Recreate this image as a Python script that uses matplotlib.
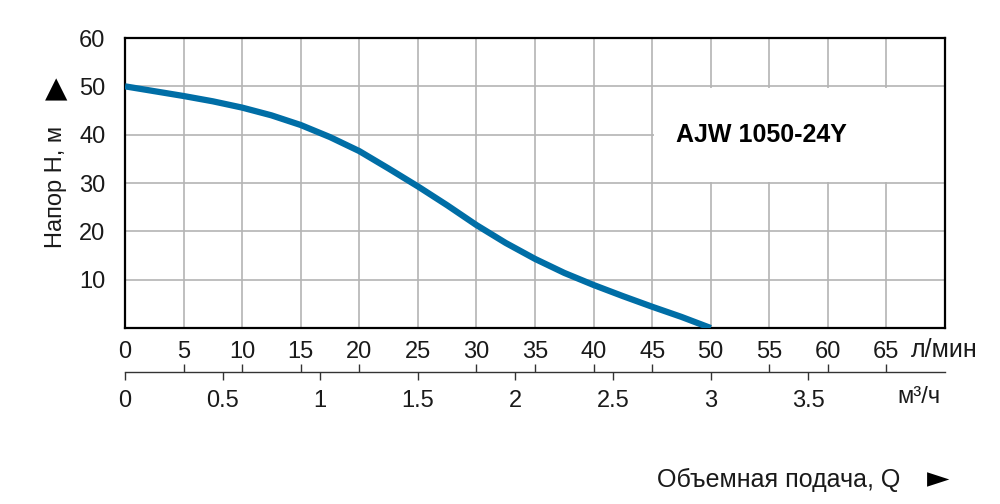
import matplotlib
matplotlib.use("Agg")
import matplotlib.pyplot as plt
from matplotlib.patches import Rectangle
from matplotlib.ticker import FixedLocator

# pump curve: flow in l/min, head in m
flow_lmin = [0, 2.5, 5, 7.5, 10, 12.5, 15, 17.5, 20, 22.5, 25, 27.5,
             30, 32.5, 35, 37.5, 40, 42.5, 45, 47.5, 50]
head_m = [50, 49.0, 48.0, 46.9, 45.6, 44.0, 42.0, 39.5, 36.6, 33.0, 29.3, 25.4,
          21.3, 17.6, 14.3, 11.4, 8.9, 6.6, 4.4, 2.3, 0]

x_ticks = [0, 5, 10, 15, 20, 25, 30, 35, 40, 45, 50, 55, 60, 65, 70]
x_labels = ["0", "5", "10", "15", "20", "25", "30", "35", "40", "45",
            "50", "55", "60", "65", ""]
y_ticks = [10, 20, 30, 40, 50, 60]
m3h_ticks = [0, 0.5, 1, 1.5, 2, 2.5, 3, 3.5]
m3h_labels = ["0", "0.5", "1", "1.5", "2", "2.5", "3", "3.5"]

model = "AJW 1050-24Y"
LMIN_TO_M3H = 0.06

plt.rcParams['font.family'] = ['Liberation Sans', 'DejaVu Sans']
txt = "#1a1a1a"
FS = 17

fig = plt.figure(figsize=(10, 5.04), dpi=100)
ax = fig.add_axes([0.125, 0.3492, 0.82, 0.5754])

ax.set_xlim(0, 70)
ax.set_ylim(0, 60)
ax.set_xticks(x_ticks, labels=x_labels)
ax.set_yticks(y_ticks)
ax.grid(True, color="#b4b4b4", lw=1.2, zorder=0)
ax.tick_params(length=0, labelsize=FS, labelcolor=txt)
ax.tick_params(axis="x", pad=9)
ax.tick_params(axis="y", pad=14)
for s in ax.spines.values():
    s.set_linewidth(1.6)
    s.set_color("black")
ax.set_axisbelow(True)

# white patch behind the model name
ax.add_patch(Rectangle((45.15, 30.25), 24.85, 19.5, facecolor="white",
                       edgecolor="none", zorder=1))
ax.text(54.3, 40, model, fontsize=18, fontweight="bold", ha="center",
        va="center", color="black", zorder=2)

ax.plot(flow_lmin, head_m, color="#006ea6", lw=4.5, solid_capstyle="butt",
        solid_joinstyle="round", zorder=3)

ax.text(0.958, -0.076, "л/мин", transform=ax.transAxes, fontsize=18,
        ha="left", va="center", color=txt)

# second flow scale in m3/h
sec = ax.secondary_xaxis(-0.152, functions=(lambda q: q * LMIN_TO_M3H,
                                            lambda m: m / LMIN_TO_M3H))
sec.set_xticks(m3h_ticks)
sec.set_xticklabels(m3h_labels)
sec.xaxis.set_minor_locator(FixedLocator([q * LMIN_TO_M3H for q in x_ticks[:-1]]))
sec.tick_params(which="major", direction="out", length=6, width=1,
                color="#333333", labelsize=FS, labelcolor=txt, pad=7)
sec.tick_params(which="minor", direction="in", length=6, width=1,
                color="#333333")
sec.spines["bottom"].set_color("#333333")
sec.spines["bottom"].set_linewidth(1)
ax.text(0.942, -0.238, "м³/ч", transform=ax.transAxes, fontsize=FS,
        ha="left", va="center", color=txt)

# axis captions with arrows
fig.text(0.056, 0.63, "Напор Н, м", rotation=90, fontsize=FS,
         ha="center", va="center", color=txt)
fig.text(0.056, 0.823, "▲", fontsize=21, ha="center", va="center",
         color="black", family="DejaVu Sans")
fig.text(0.900, 0.048, "Объемная подача, Q", fontsize=18, ha="right",
         va="center", color=txt)
fig.text(0.938, 0.048, "►", fontsize=21, ha="center", va="center",
         color="black", family="DejaVu Sans")

fig.savefig("out.png", dpi=100)
